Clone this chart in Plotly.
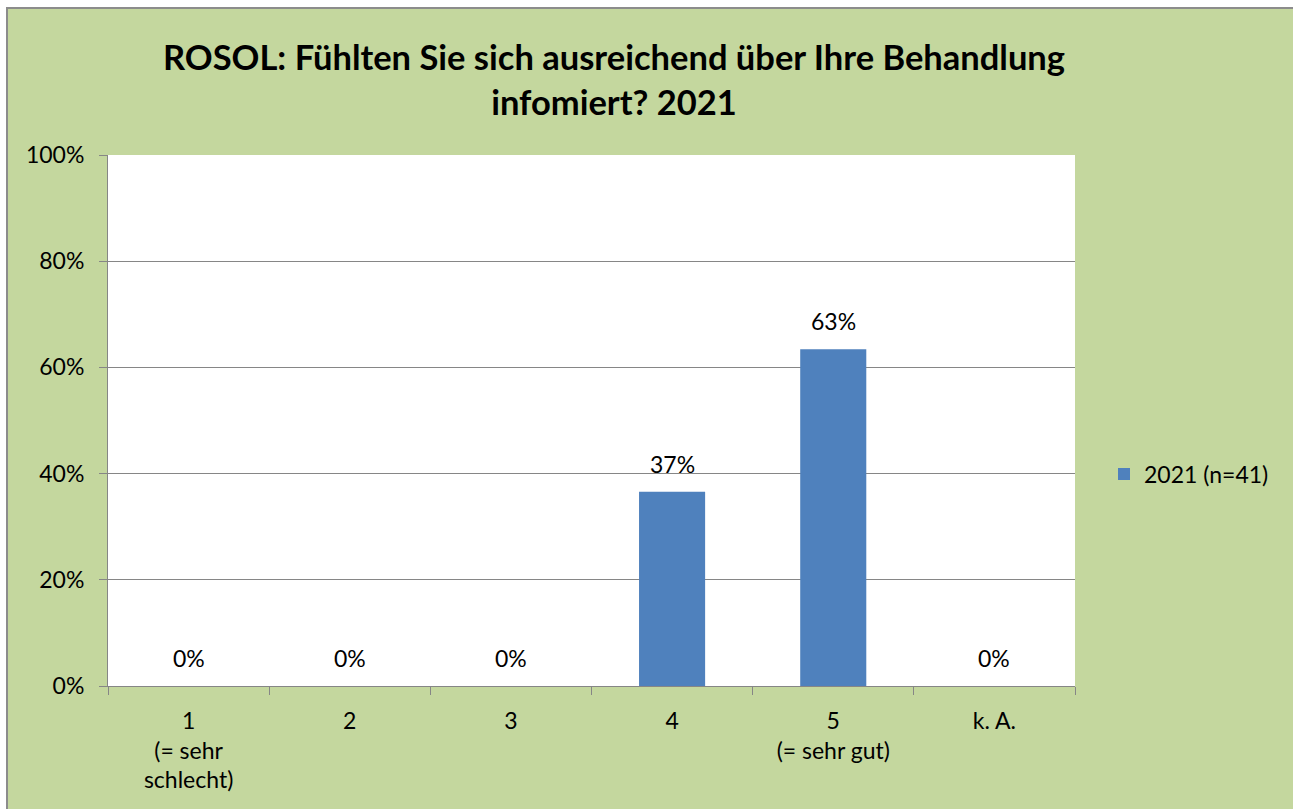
import plotly.graph_objects as go

categories = ["1<br>(= sehr<br>schlecht)", "2", "3", "4", "5<br>(= sehr gut)", "k. A."]
values = [0.0, 0.0, 0.0, 36.6, 63.4, 0.0]
labels = ["0%", "0%", "0%", "37%", "63%", "0%"]
series_name = "2021 (n=41)"
y_ticks = [0, 20, 40, 60, 80, 100]
y_ticklabels = ["0%", "20%", "40%", "60%", "80%", "100%"]

W, H = 1293, 809
L, R, T, B = 108, 1075, 155, 686
pw, ph = R - L, B - T

font = "Lato, Calibri, 'Open Sans', sans-serif"
FS = 23

fig = go.Figure()
fig.add_trace(go.Bar(
    x=categories, y=values, name=series_name,
    marker=dict(color="#4F81BD", line=dict(width=0)),
    showlegend=True,
))

annotations = [
    dict(x=i, y=v, xref="x", yref="y", text=t, showarrow=False,
         yanchor="bottom", yshift=12,
         font=dict(size=FS, family=font, color="#000000"))
    for i, (v, t) in enumerate(zip(values, labels))
]

fig.update_layout(
    width=W, height=H,
    margin=dict(l=L, r=W - R, t=T, b=H - B, pad=0),
    paper_bgcolor="white",
    plot_bgcolor="white",
    bargap=0.59,
    font=dict(family=font, size=FS, color="#000000"),
    title=dict(
        text="<b>ROSOL: Fühlten Sie sich ausreichend über Ihre Behandlung<br>infomiert? 2021</b>",
        x=(614 - L) / pw, xref="paper", xanchor="center",
        y=1 - 70 / H, yanchor="top", yref="container",
        font=dict(size=34.5, family=font, color="#000000"),
    ),
    xaxis=dict(
        showline=True, linecolor="#868686", linewidth=1,
        ticks="outside", ticklen=8, tickcolor="#868686",
        tickson="boundaries",
        showgrid=False, tickfont=dict(size=FS, family=font),
        ticklabelstandoff=14,
        fixedrange=True,
    ),
    yaxis=dict(
        range=[0, 100], tickvals=y_ticks, ticktext=y_ticklabels,
        showline=True, linecolor="#868686", linewidth=1,
        ticks="outside", ticklen=8, tickcolor="#868686",
        showgrid=True, gridcolor="#868686", gridwidth=1,
        zeroline=False, tickfont=dict(size=FS, family=font),
        ticklabelstandoff=10,
    ),
    legend=dict(
        x=(1104 - L) / pw, xanchor="left", y=(B - 474) / ph, yanchor="middle",
        bgcolor="rgba(0,0,0,0)", font=dict(size=FS, family=font),
    ),
    annotations=annotations,
    shapes=[
        dict(type="rect", xref="paper", yref="paper",
             x0=(7 - L) / pw, x1=(W + 40 - L) / pw,
             y0=(B - (H + 40)) / ph, y1=(B - 8) / ph,
             fillcolor="#C4D79E", line=dict(color="#8C8C8C", width=2),
             layer="below"),
        dict(type="rect", xref="paper", yref="paper",
             x0=0, x1=1, y0=0, y1=1,
             fillcolor="white", line=dict(width=0),
             layer="below"),
    ],
)

fig.write_html(
    "out.html",
    config={"displayModeBar": False},
    post_script="document.body.style.margin='0';document.body.style.overflow='hidden';"
                "document.documentElement.style.overflow='hidden';"
                "document.documentElement.style.background='white';",
)
